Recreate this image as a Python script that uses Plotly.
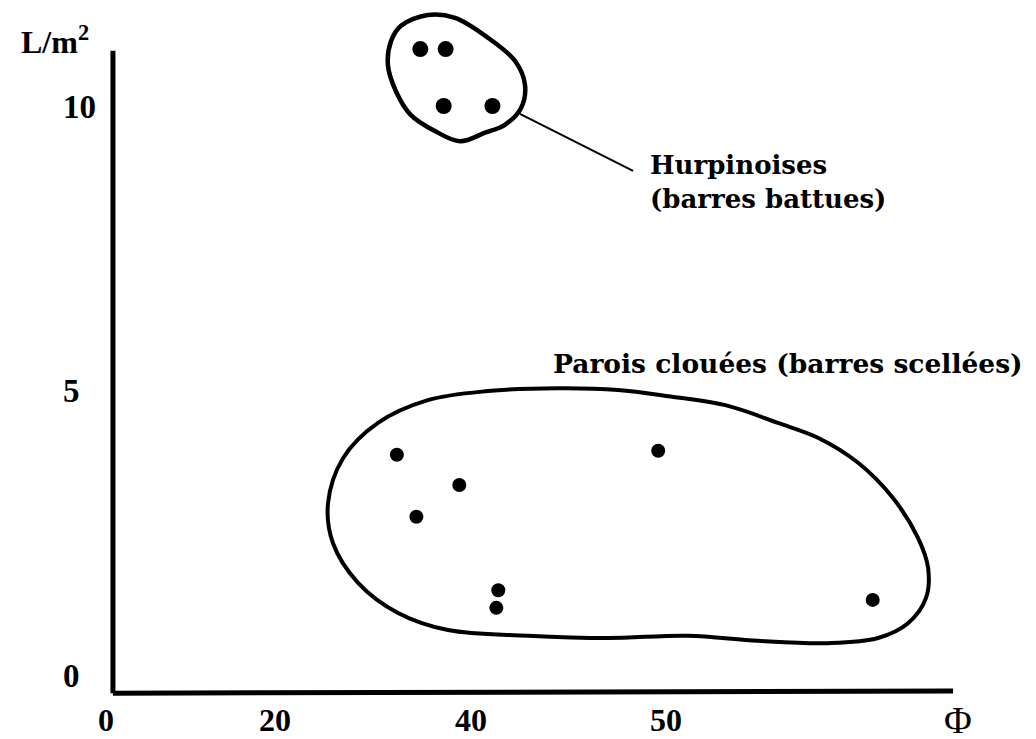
import plotly.graph_objects as go

# ---- data (Φ on x, L/m² on y) ----
phi_hurpinoises = [37.4, 38.7, 38.6, 41.1]
L_hurpinoises = [11.0, 11.0, 10.0, 10.0]

phi_parois = [36.2, 39.4, 37.2, 49.6, 41.4, 41.3, 60.6]
L_parois = [3.87, 3.34, 2.78, 3.94, 1.49, 1.18, 1.32]

# hand-drawn enclosing outlines (data units)
outline_h_x = [36.41, 37.79, 39.18, 40.87, 42.26, 42.77, 42.56, 41.74, 40.72, 39.44, 38.15, 36.92, 36.15, 35.74, 35.90, 36.41]
outline_h_y = [11.41, 11.60, 11.55, 11.20, 10.79, 10.37, 9.96, 9.67, 9.53, 9.38, 9.56, 9.84, 10.26, 10.72, 11.14, 11.41]

outline_p_x = [33.44, 35.23, 37.79, 40.87, 44.46, 47.54, 50.10, 53.18, 55.74, 57.79, 59.85, 61.64, 62.92, 63.44,
               63.33, 62.41, 60.87, 58.31, 54.72, 51.13, 47.03, 42.92, 38.82, 36.26, 34.21, 32.92, 32.67, 33.44]
outline_p_y = [3.81, 4.43, 4.83, 4.99, 5.04, 5.01, 4.90, 4.73, 4.43, 4.17, 3.73, 3.11, 2.41, 1.88,
               1.35, 0.91, 0.65, 0.56, 0.60, 0.69, 0.65, 0.69, 0.79, 1.09, 1.62, 2.32, 3.02, 3.81]

x_tick_pos = [21.28, 29.95, 40, 50]
x_tick_text = ["0", "20", "40", "50"]
y_tick_pos = [0, 5, 10]
y_tick_text = ["0\u2007", "5\u2007", "10"]

label_h = "Hurpinoises<br>(barres battues)"
label_p = "Parois clouées (barres scellées)"

fig = go.Figure()

fig.add_trace(go.Scatter(x=outline_h_x, y=outline_h_y, mode="lines",
                         line=dict(color="black", width=4.5, shape="spline", smoothing=1.0),
                         hoverinfo="skip", showlegend=False))
fig.add_trace(go.Scatter(x=outline_p_x, y=outline_p_y, mode="lines",
                         line=dict(color="black", width=4, shape="spline", smoothing=1.0),
                         hoverinfo="skip", showlegend=False))
fig.add_trace(go.Scatter(x=phi_hurpinoises, y=L_hurpinoises, mode="markers",
                         marker=dict(color="black", size=16), showlegend=False))
fig.add_trace(go.Scatter(x=phi_parois, y=L_parois, mode="markers",
                         marker=dict(color="black", size=14), showlegend=False))

# axes lines (hand-drawn style)
fig.add_shape(type="line", x0=21.64, x1=21.64, y0=-0.32, y1=10.97, line=dict(color="black", width=5))
fig.add_shape(type="line", x0=21.64, x1=64.72, y0=-0.32, y1=-0.28, line=dict(color="black", width=5))
# leader line
fig.add_shape(type="line", x0=42.51, y0=9.86, x1=48.31, y1=8.86, line=dict(color="black", width=2))

fig.add_annotation(x=49.08, y=8.66, xref="x", yref="y", text=label_h, showarrow=False,
                   xanchor="left", yanchor="middle", align="left",
                   font=dict(family="DejaVu Serif", size=26, color="black", weight="bold"))
fig.add_annotation(x=44.10, y=5.48, xref="x", yref="y", text=label_p, showarrow=False,
                   xanchor="left", yanchor="middle", align="left",
                   font=dict(family="DejaVu Serif", size=26.5, color="black", weight="bold"))
fig.add_annotation(x=-0.0516, y=0.9536, xref="paper", yref="paper", text="L/m<sup>2</sup>", showarrow=False,
                   xanchor="center", yanchor="middle",
                   font=dict(family="Liberation Serif", size=32, color="black", weight="bold"))
fig.add_annotation(x=0.918, y=-0.032, xref="paper", yref="paper", text="Φ", showarrow=False,
                   xanchor="center", yanchor="middle",
                   font=dict(family="Liberation Serif", size=38, color="black"))

fig.update_layout(
    width=1036, height=739,
    margin=dict(l=95, r=10, t=0, b=49),
    plot_bgcolor="white", paper_bgcolor="white",
    xaxis=dict(range=[21.13, 68.87], showgrid=False, zeroline=False, showline=False, ticks="",
               automargin=False, tickvals=x_tick_pos, ticktext=x_tick_text,
               tickfont=dict(family="Liberation Serif", size=32, color="black", weight="bold")),
    yaxis=dict(range=[-0.404, 11.722], showgrid=False, zeroline=False, showline=False, ticks="",
               automargin=False, tickvals=y_tick_pos, ticktext=y_tick_text, ticklabelstandoff=6,
               tickfont=dict(family="Liberation Serif", size=33, color="black", weight="bold")),
    showlegend=False,
)

fig.write_html("out.html")
